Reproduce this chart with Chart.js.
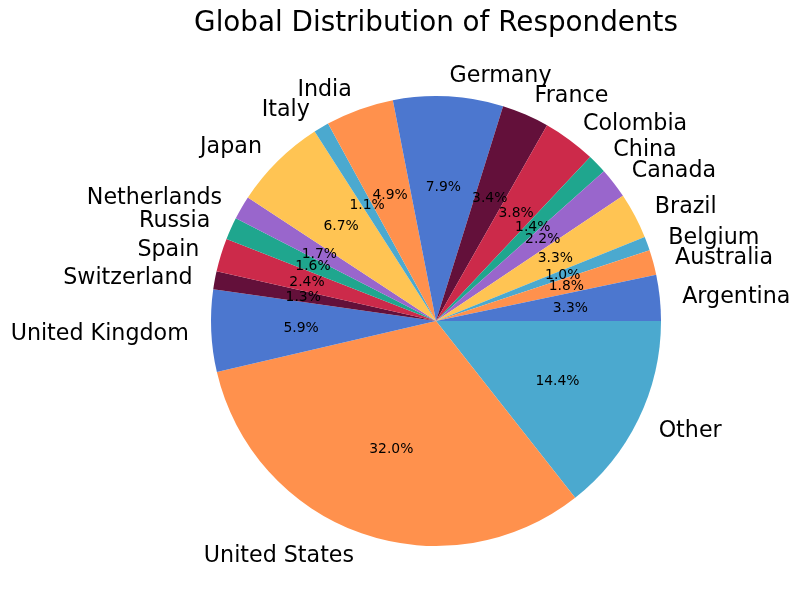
<!DOCTYPE html>
<html>
<head>
<meta charset="utf-8">
<script src="https://cdn.jsdelivr.net/npm/chart.js@4"></script>
<style>
  html, body { margin: 0; padding: 0; background: #fff; }
  #wrap { width: 800px; height: 612px; }
</style>
</head>
<body>
<div id="wrap"><canvas id="respondentsPie"></canvas></div>
<script>
const countries = ["Argentina", "Australia", "Belgium", "Brazil", "Canada", "China", "Colombia",
  "France", "Germany", "India", "Italy", "Japan", "Netherlands", "Russia", "Spain",
  "Switzerland", "United Kingdom", "United States", "Other"];
const shares = [3.3, 1.8, 1.0, 3.3, 2.2, 1.4, 3.8, 3.4, 7.9, 4.9, 1.1, 6.7, 1.7, 1.6, 2.4, 1.3, 5.9, 32.0, 14.4];
const palette = ['#4C77CF', '#FF914D', '#4BA9CF', '#FFC453', '#9966CC', '#1FA68E', '#CC2A4A', '#63103A'];
const chartTitle = 'Global Distribution of Respondents';

// matplotlib draws counter-clockwise from 3 o'clock; Chart.js goes clockwise,
// so feed the slices reversed and start at 3 o'clock
const labels = countries.slice().reverse();
const values = shares.slice().reverse();
const colors = countries.map((c, i) => palette[i % palette.length]).reverse();

const pieText = {
  id: 'pieText',
  afterDraw(chart) {
    const ctx = chart.ctx;
    ctx.save();
    ctx.fillStyle = '#000';
    ctx.textAlign = 'center';
    ctx.textBaseline = 'middle';
    ctx.font = '27.8px "DejaVu Sans"';
    ctx.fillText(chartTitle, 436, 24);

    const total = values.reduce((a, b) => a + b, 0);
    chart.getDatasetMeta(0).data.forEach((arc, i) => {
      const p = arc.getProps(['x', 'y', 'startAngle', 'endAngle', 'outerRadius']);
      const mid = (p.startAngle + p.endAngle) / 2;
      const cx = Math.cos(mid), cy = Math.sin(mid);
      // name outside
      const lx = p.x + cx * p.outerRadius * 1.1;
      const ly = p.y + cy * p.outerRadius * 1.1 + 2;
      ctx.font = '22.2px "DejaVu Sans"';
      ctx.textAlign = cx >= 0 ? 'left' : 'right';
      ctx.fillText(labels[i], lx, ly);
      // percentage inside
      ctx.font = '13.9px "DejaVu Sans"';
      ctx.textAlign = 'center';
      const pct = (values[i] / total * 100).toFixed(1) + '%';
      ctx.fillText(pct, p.x + cx * p.outerRadius * 0.6, p.y + cy * p.outerRadius * 0.6 + 1);
    });
    ctx.restore();
  }
};

new Chart(document.getElementById('respondentsPie'), {
  type: 'pie',
  data: {
    labels: labels,
    datasets: [{
      data: values,
      backgroundColor: colors,
      borderWidth: 0
    }]
  },
  options: {
    responsive: true,
    maintainAspectRatio: false,
    animation: false,
    rotation: 90,
    layout: { padding: { left: 172, right: 100, top: 96, bottom: 66 } },
    plugins: {
      legend: { display: false },
      tooltip: { enabled: false }
    }
  },
  plugins: [pieText]
});
</script>
</body>
</html>
